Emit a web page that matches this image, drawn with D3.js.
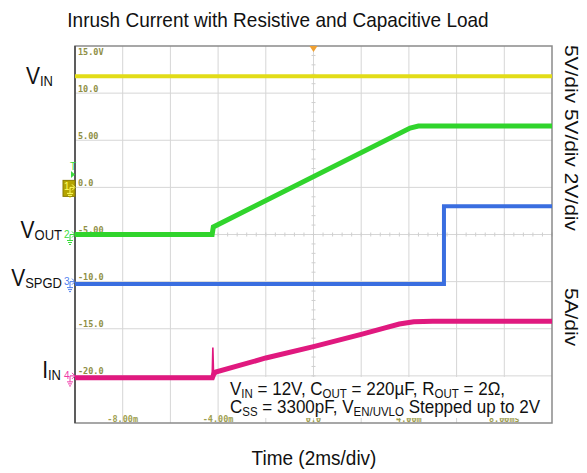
<html>
<head>
	<title>Inrush Current</title>
	<style>
		body { margin: 0; background: #fff; }
		text { font-family: "Liberation Sans", Arial, sans-serif; }
	</style>
</head>
<body>
	<script src="https://cdnjs.cloudflare.com/ajax/libs/d3/7.8.5/d3.min.js"></script>
	<script type="text/javascript">
		// scope readings, time in ms
		var timeTicks = [-8, -4, 0, 4, 8];
		var timeLabels = ["-8.00m", "-4.00m", "0.0", "4.00m", "8.00ms"];
		var gridTicks = [15, 10, 5, 0, -5, -10, -15, -20];
		var gridLabels = ["15.0V", "10.0", "5.00", "0.0", "-5.00", "-10.0", "-15.0", "-20.0"];

		var vinPts = [[-10, 11.8], [10, 11.8]];
		var voutPts = [[-10, 0], [-4.25, 0], [-4.2, 0.8], [4.05, 11.3], [4.4, 11.5], [10, 11.5]];
		var spgdPts = [[-10, -0.1], [5.47, -0.1], [5.47, 3.2], [10, 3.2]];
		var iinPts = [[-10, -0.2], [-4.24, -0.2], [-4.18, 0.2], [-4.1, 0.4], [-2, 1.9],
			[0, 3.1], [2, 4.4], [3, 5.1], [3.6, 5.5], [4.2, 5.75], [5, 5.8], [10, 5.8]];
		var iinSpike = [[-4.25, -0.2], [-4.22, 3.0], [-4.19, 0.2]];

		// channel ground level (on ch1 grid) and units per div
		var channels = [
			{ name: "vin", pts: vinPts, ground: 0, perDiv: 5, color: "#e2dc18", width: 4 },
			{ name: "vout", pts: voutPts, ground: -5, perDiv: 5, color: "#30d42c", width: 5 },
			{ name: "spgd", pts: spgdPts, ground: -10, perDiv: 2, color: "#3a6ee0", width: 4 },
			{ name: "iin", pts: iinPts, ground: -20, perDiv: 5, color: "#e0197f", width: 5 }
		];

		var W = 587, H = 473;
		var L = 75, R = 552, T = 46, B = 423;
		var stretch = 1.1;

		var svg = d3.select("body").append("svg")
			.attr("width", W)
			.attr("height", H);

		var x = d3.scaleLinear().domain([-10, 10]).range([L, R]);
		var y = d3.scaleLinear().domain([-25, 15]).range([B, T]);

		// grid
		var g = svg.append("g");
		g.selectAll("line.vg").data(d3.range(-8, 10, 2)).enter().append("line")
			.attr("x1", function(d){ return x(d); }).attr("x2", function(d){ return x(d); })
			.attr("y1", T).attr("y2", B)
			.style("stroke", "#d6d6d6").style("stroke-width", "1px");
		g.selectAll("line.hg").data(d3.range(-20, 15, 5)).enter().append("line")
			.attr("x1", L).attr("x2", R)
			.attr("y1", function(d){ return y(d); }).attr("y2", function(d){ return y(d); })
			.style("stroke", "#d6d6d6").style("stroke-width", "1px");

		// minor ticks on the centre cross
		g.selectAll("line.mx").data(d3.range(-10, 10.01, 0.4)).enter().append("line")
			.attr("x1", function(d){ return x(d); }).attr("x2", function(d){ return x(d); })
			.attr("y1", y(-5) - 2).attr("y2", y(-5) + 2)
			.style("stroke", "#cfcfcf");
		g.selectAll("line.my").data(d3.range(-25, 15.01, 1)).enter().append("line")
			.attr("x1", x(0) - 2).attr("x2", x(0) + 2)
			.attr("y1", function(d){ return y(d); }).attr("y2", function(d){ return y(d); })
			.style("stroke", "#cfcfcf");

		// tick labels (scope style)
		g.selectAll("text.yl").data(gridTicks).enter().append("text")
			.attr("x", L + 3)
			.attr("y", function(d, i){ return i == 0 ? y(d) + 9 : y(d) - 1.5; })
			.style("font-family", "'DejaVu Sans Mono', monospace")
			.style("font-size", "8.5px")
			.style("font-weight", "bold")
			.style("fill", "#8f8f45")
			.text(function(d, i){ return gridLabels[i]; });
		g.selectAll("text.xl").data(timeTicks).enter().append("text")
			.attr("x", function(d){ return x(d); })
			.attr("y", B - 1.5)
			.attr("text-anchor", "middle")
			.style("font-family", "'DejaVu Sans Mono', monospace")
			.style("font-size", "8.5px")
			.style("font-weight", "bold")
			.style("fill", "#a0a050")
			.text(function(d, i){ return timeLabels[i]; });

		// white box behind the note (it hides the top of the right time labels)
		svg.append("rect")
			.attr("x", 238).attr("y", 377)
			.attr("width", R - 238).attr("height", 41)
			.style("fill", "#fff");

		// frame
		svg.append("rect")
			.attr("x", L).attr("y", T)
			.attr("width", R - L).attr("height", B - T)
			.style("fill", "none").style("stroke", "#8a8a8a").style("stroke-width", "1.5px");
		svg.append("line")
			.attr("x1", L).attr("x2", L).attr("y1", T).attr("y2", B)
			.style("stroke", "#444").style("stroke-width", "1.5px");

		// traces
		var line = d3.line();
		function toXY(c, pts){
			var k = 5 / c.perDiv;
			return pts.map(function(p){ return [x(p[0]), y(c.ground + p[1] * k)]; });
		}
		channels.forEach(function(c){
			svg.append("path")
				.attr("d", line(toXY(c, c.pts)))
				.style("fill", "none")
				.style("stroke", c.color)
				.style("stroke-width", c.width + "px")
				.style("stroke-linejoin", "miter");
		});
		svg.append("path")
			.attr("d", line(toXY(channels[3], iinSpike)))
			.style("fill", "none")
			.style("stroke", channels[3].color)
			.style("stroke-width", "1.6px")
			.style("stroke-linejoin", "bevel");

		// trigger marker
		svg.append("path")
			.attr("d", "M" + (x(0) - 4) + "," + T + " L" + (x(0) + 4) + "," + T + " L" + x(0) + "," + (T + 6) + " Z")
			.style("fill", "#f0a030");

		// channel markers on the left
		var markColors = ["#222", "#3cdc3c", "#4f7ff0", "#ee3aa8"];
		channels.forEach(function(c, i){
			var yy = y(c.ground);
			var mg = svg.append("g").attr("transform", "translate(" + 63 + "," + yy + ")");
			if (i == 0) {
				mg.append("rect").attr("x", 0).attr("y", -7).attr("width", 12).attr("height", 16)
					.style("fill", "#b4a400").style("stroke", "#8a7c00");
			}
			var col = i == 0 ? "#ffff60" : markColors[i];
			mg.append("text").attr("x", 1).attr("y", 3)
				.style("font-size", "10px").style("fill", col).text(i + 1);
			mg.append("path").attr("d", "M7,0 L11,0 M9,-3 L12,0 L9,3")
				.style("fill", "none").style("stroke", col).style("stroke-width", "1px");
			mg.append("path").attr("d", "M7,0 L7,6 M4,6 L10,6 M5,8 L9,8 M6,10 L8,10")
				.style("fill", "none").style("stroke", col).style("stroke-width", "1px");
		});
		svg.append("text").attr("x", 70).attr("y", 170)
			.style("font-size", "10px").style("fill", "#3cdc3c").text("T");
		svg.append("path").attr("d", "M71,171 L75,174.5 L71,178 Z").style("fill", "#3cdc3c");

		// text helpers
		function addText(xx, yy, parts, opt){
			var t = svg.append("text")
				.attr("transform", "translate(" + xx + "," + yy + ") scale(1," + stretch + ")" + (opt.rotate ? " rotate(" + opt.rotate + ")" : ""))
				.attr("text-anchor", opt.anchor || "start")
				.style("font-size", opt.size + "px")
				.style("fill", "#111");
			var shifted = false;
			parts.forEach(function(p){
				var s = t.append("tspan").text(p[0]);
				if (p[1]) {
					s.style("font-size", opt.sub + "px");
					if (!shifted) { s.attr("dy", opt.shift); shifted = true; }
				} else if (shifted) {
					s.attr("dy", -opt.shift); shifted = false;
				}
			});
			return t;
		}

		addText(278, 27, [["Inrush Current with Resistive and Capacitive Load"]], { size: 19, anchor: "middle" });
		addText(314, 465, [["Time (2ms/div)"]], { size: 19, anchor: "middle" });
		addText(565, 45, [["5V/div 5V/div 2V/div"]], { size: 19, rotate: 90 });
		addText(565, 288, [["5A/div"]], { size: 19, rotate: 90 });

		addText(53, 84, [["V"], ["IN", 1]], { size: 21, sub: 13, shift: 2, anchor: "end" });
		addText(62, 238, [["V"], ["OUT", 1]], { size: 21, sub: 13, shift: 2, anchor: "end" });
		addText(62, 286, [["V"], ["SPGD", 1]], { size: 21, sub: 13, shift: 2, anchor: "end" });
		addText(61, 378, [["I"], ["IN", 1]], { size: 21, sub: 13, shift: 2, anchor: "end" });

		addText(230, 395, [["V"], ["IN", 1], [" = 12V, C"], ["OUT", 1], [" = 220\u00b5F, R"], ["OUT", 1], [" = 2\u03a9,"]],
			{ size: 17, sub: 11.5, shift: 3 });
		addText(230, 413, [["C"], ["SS", 1], [" = 3300pF, V"], ["EN/UVLO", 1], [" Stepped up to 2V"]],
			{ size: 17, sub: 11.5, shift: 3 });
	</script>
</body>
</html>
